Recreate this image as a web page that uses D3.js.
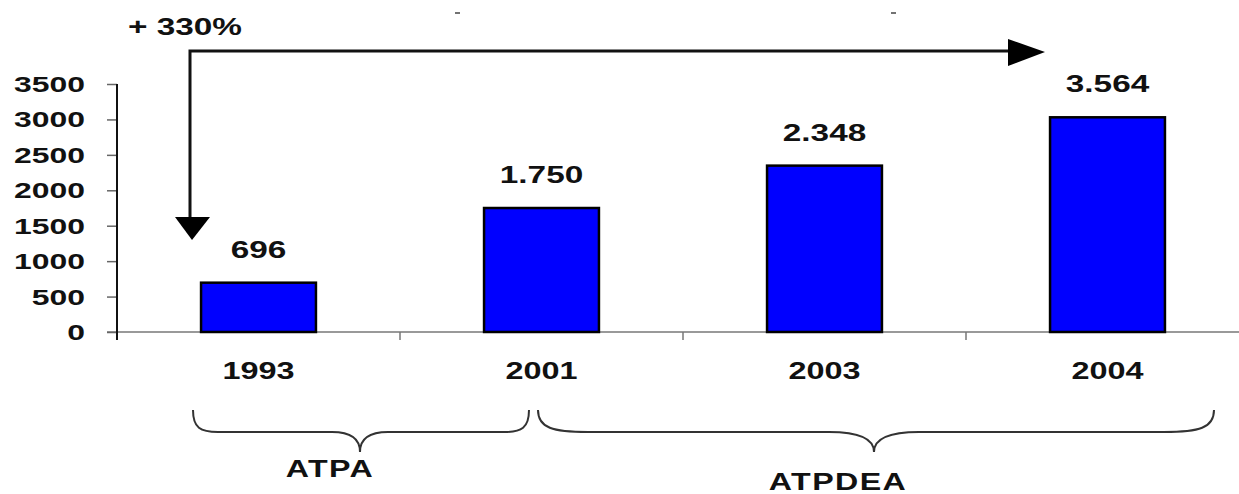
<!DOCTYPE html>
<html>
<head>
<meta charset="utf-8">
<script src="https://cdn.jsdelivr.net/npm/d3@7"></script>
<style>
  body { margin: 0; background: #fff; }
  text { font-family: "Liberation Sans", Arial, sans-serif; font-weight: bold; fill: #111; }
</style>
</head>
<body>
<script>
// data
var years = ["1993", "2001", "2003", "2004"];
var values = [696, 1750, 2348, 3030];
var valueLabels = ["696", "1.750", "2.348", "3.564"];
var yTicks = [0, 500, 1000, 1500, 2000, 2500, 3000, 3500];
var growthLabel = "+ 330%";
var groups = [
  {name: "ATPA", from: "1993", to: "2001"},
  {name: "ATPDEA", from: "2001", to: "2004"}
];

var W = 1239, H = 494;
var stretch = 1.45; // text in the picture is wide

var svg = d3.select("body").append("svg")
    .attr("width", W)
    .attr("height", H);

// scales
var x = d3.scaleBand()
    .domain(years)
    .range([117, 1249]);
var y = d3.scaleLinear()
    .domain([0, 3500])
    .range([332, 84]);

var barW = x.bandwidth() * 0.406;

// x axis line and category ticks
svg.append("line")
    .attr("x1", 107).attr("x2", W)
    .attr("y1", y(0)).attr("y2", y(0))
    .attr("stroke", "#777").attr("stroke-width", 1.5);
svg.selectAll(".ctick")
    .data(years.slice(1))
    .enter().append("line")
    .attr("x1", function(d) { return x(d); })
    .attr("x2", function(d) { return x(d); })
    .attr("y1", y(0)).attr("y2", y(0) + 8)
    .attr("stroke", "#777").attr("stroke-width", 1.5);

// y axis
var yAxis = svg.append("g")
    .attr("transform", "translate(117,0)")
    .call(d3.axisLeft(y).tickValues(yTicks).tickSize(10).tickFormat(""));
yAxis.select(".domain").remove();
yAxis.selectAll(".tick line").attr("stroke", "#666").attr("stroke-width", 1.5);
svg.append("line")
    .attr("x1", 117).attr("x2", 117)
    .attr("y1", y(3500)).attr("y2", y(0) + 8)
    .attr("stroke", "#111").attr("stroke-width", 2);

svg.selectAll(".ylab")
    .data(yTicks)
    .enter().append("text")
    .attr("text-anchor", "end")
    .attr("transform", function(d) { return "translate(85," + (y(d) + 8) + ") scale(" + stretch + ",1)"; })
    .style("font-size", "22px")
    .text(function(d) { return d; });

// bars
svg.selectAll(".bar")
    .data(years)
    .enter().append("rect")
    .attr("x", function(d) { return x(d) + (x.bandwidth() - barW) / 2; })
    .attr("width", barW)
    .attr("y", function(d, i) { return y(values[i]); })
    .attr("height", function(d, i) { return y(0) - y(values[i]); })
    .attr("fill", "#0000ff")
    .attr("stroke", "#000")
    .attr("stroke-width", 2.5);

// value labels
svg.selectAll(".vlab")
    .data(years)
    .enter().append("text")
    .attr("text-anchor", "middle")
    .attr("transform", function(d, i) {
      return "translate(" + (x(d) + x.bandwidth() / 2) + "," + (y(values[i]) - 25) + ") scale(" + stretch + ",1)";
    })
    .style("font-size", "23px")
    .text(function(d, i) { return valueLabels[i]; });

// category labels
svg.selectAll(".xlab")
    .data(years)
    .enter().append("text")
    .attr("text-anchor", "middle")
    .attr("transform", function(d) { return "translate(" + (x(d) + x.bandwidth() / 2) + ",379) scale(1.35,1)"; })
    .style("font-size", "24px")
    .text(function(d) { return d; });

// growth arrow
svg.append("path")
    .attr("d", "M190,217 L190,51 L1008,51")
    .attr("fill", "none")
    .attr("stroke", "#111")
    .attr("stroke-width", 3);
svg.append("path")
    .attr("d", "M175,217 L210,217 L192,240 Z")
    .attr("fill", "#000");
svg.append("path")
    .attr("d", "M1008,39 L1008,66 L1045,52 Z")
    .attr("fill", "#000");
svg.append("text")
    .attr("transform", "translate(128,35) scale(1.45,1)")
    .style("font-size", "23px")
    .text(growthLabel);

// two little marks at the top
[457, 893].forEach(function(px) {
  svg.append("line")
    .attr("x1", px - 2).attr("x2", px + 3)
    .attr("y1", 13).attr("y2", 13)
    .attr("stroke", "#444").attr("stroke-width", 1.5);
});

// braces under the years
function brace(x1, x2, xm, top, mid, tip, endW, cuspW) {
  return "M" + x1 + "," + top +
    " C" + x1 + "," + (mid - 4) + " " + (x1 + endW * 0.3) + "," + mid + " " + (x1 + endW) + "," + mid +
    " L" + (xm - cuspW) + "," + mid +
    " C" + (xm - cuspW * 0.35) + "," + mid + " " + xm + "," + (mid + 6) + " " + xm + "," + tip +
    " C" + xm + "," + (mid + 6) + " " + (xm + cuspW * 0.35) + "," + mid + " " + (xm + cuspW) + "," + mid +
    " L" + (x2 - endW) + "," + mid +
    " C" + (x2 - endW * 0.3) + "," + mid + " " + x2 + "," + (mid - 4) + " " + x2 + "," + top;
}
var braceSpec = {
  ATPA: {x1: 193, x2: 529, xm: 360, endW: 25, cuspW: 28, lx: 330, ly: 477},
  ATPDEA: {x1: 538, x2: 1214, xm: 874, endW: 50, cuspW: 45, lx: 838, ly: 490}
};
groups.forEach(function(g) {
  var s = braceSpec[g.name];
  svg.append("path")
    .attr("d", brace(s.x1, s.x2, s.xm, 410, 432, 452, s.endW, s.cuspW))
    .attr("fill", "none")
    .attr("stroke", "#333")
    .attr("stroke-width", 2);
  svg.append("text")
    .attr("text-anchor", "middle")
    .attr("transform", "translate(" + s.lx + "," + s.ly + ") scale(1.4,1)")
    .style("font-size", "23px")
    .style("letter-spacing", "1px")
    .text(g.name);
});
</script>
</body>
</html>
